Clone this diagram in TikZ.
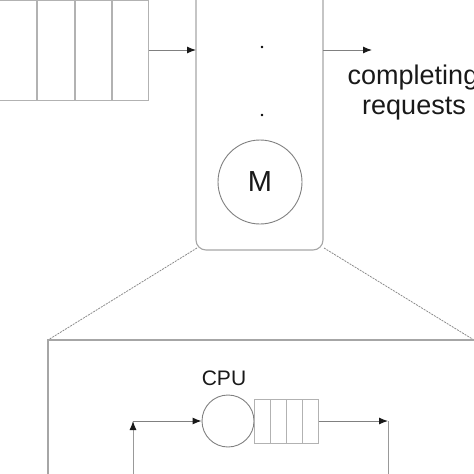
\documentclass[tikz,border=0pt]{standalone}
\usepackage{fontspec}
\setmainfont{Liberation Sans}
\usetikzlibrary{arrows.meta}
\begin{document}
\begin{tikzpicture}[x=1pt,y=-1pt,
  box/.style={draw=black!35,line width=1.1pt},
  conn/.style={draw=black!50,line width=1pt,-{Latex[length=9pt,width=7pt,color=black!90]}},
  plain/.style={draw=black!40,line width=1pt},
  zoomline/.style={draw=black!45,line width=0.8pt,dash pattern=on 2pt off 1pt},
  server/.style={circle,draw=black!50,line width=0.9pt,inner sep=0pt},
  queuebox/.style={rectangle,draw=black!30,line width=1pt,inner sep=0pt}]
\useasboundingbox (0,0) rectangle (474,474);
\clip (0,0) rectangle (474,474);
% top input queue
\node[queuebox,minimum width=160pt,minimum height=100pt] (inq) at (68,50.5) {};
\foreach \x in {37,75,112} \draw[box,draw=black!30] (\x,0.5) -- (\x,100.5);
% big station box
\node[box,rounded corners=10pt,rectangle,minimum width=127pt,minimum height=280pt,inner sep=0pt] (station) at (259.5,110) {};
\fill[black] (262,47) circle (1.4pt);
\fill[black] (262,115) circle (1.4pt);
\node[server,minimum size=84pt,font=\fontsize{29}{29}\selectfont,text=black!90] (m) at (260,182) {M};
% arrows
\coordinate (inend) at (196,50);
\draw[conn] (inq.east |- inend) -- (inend);
\coordinate (outstart) at (323,50);
\coordinate (outend) at (372,50);
\draw[conn] (outstart) -- (outend);
\node[font=\fontsize{27}{27}\selectfont,anchor=base,text=black!90] (t1) at (413,84) {completing};
\node[font=\fontsize{27}{27}\selectfont,anchor=base,text=black!90] (t2) at (414,114) {requests};
% zoom lines
\coordinate (bl) at (197,248);
\coordinate (br) at (324,248);
\coordinate (zl) at (48,340);
\coordinate (zr) at (474,340);
\draw[zoomline] (bl) -- (zl);
\draw[zoomline] (br) -- (zr);
% lower detail box
\coordinate (lbot) at (48,480);
\coordinate (rtop) at (480,340);
\draw[plain,draw=black!35,line width=1.6pt] (rtop) -- (zl) -- (lbot);
% CPU
\node[server,minimum size=52pt] (cpu) at (228,421) {};
\node[font=\fontsize{21}{21}\selectfont,text=black!90] (cpul) at (224,378) {CPU};
\node[queuebox,minimum width=64pt,minimum height=44pt] (cq) at (286,421) {};
\foreach \x in {270,286,302} \draw[box,draw=black!30,line width=1pt] (\x,399) -- (\x,443);
\coordinate (rc) at (388,421);
\coordinate (rb) at (388,480);
\draw[conn] (cq.east) -- (rc);
\draw[plain] (rc) -- (rb);
\coordinate (lc) at (133,421);
\coordinate (lb) at (133,480);
\draw[conn,draw=black!40] (lb) -- (lc);
\draw[conn] (lc) -- (cpu.west);
\end{tikzpicture}
\end{document}
